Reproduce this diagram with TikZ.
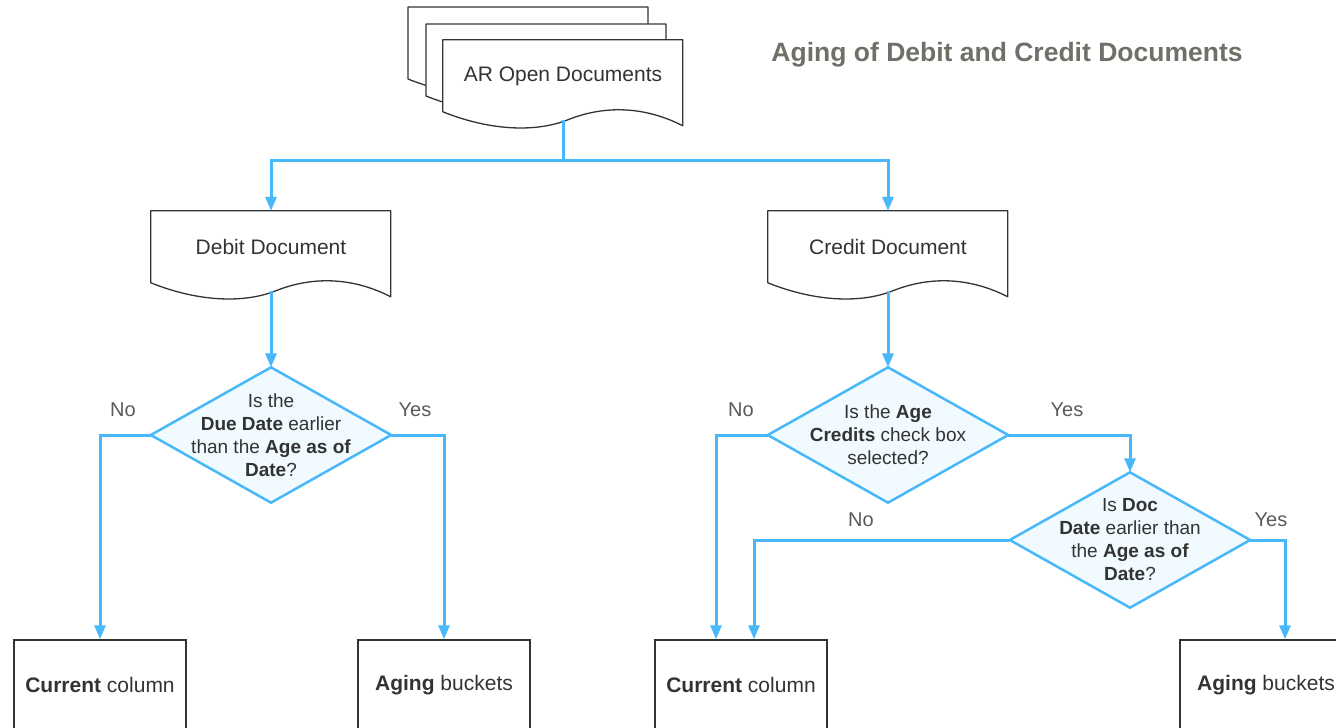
\documentclass[tikz,border=0pt]{standalone}
\usepackage{fontspec}
\setmainfont{Liberation Sans}
\usetikzlibrary{arrows.meta,backgrounds}
\definecolor{flowblue}{RGB}{72,184,250}
\definecolor{decfill}{RGB}{240,250,255}
\definecolor{inkgray}{RGB}{51,51,51}
\definecolor{titlegray}{RGB}{112,112,104}
\definecolor{answergray}{RGB}{90,90,90}
\newcommand\docsheet[1]{\filldraw[sheet,shift={#1}] (0,0) -- (240,0) -- (240,86) .. controls (205,68) and (165,64) .. (125,80) .. controls (95,92) and (50,92) .. (0,72) -- cycle;}
\newcommand\decpath[1]{\filldraw[decision] (#1.north) -- (#1.east) -- (#1.south) -- (#1.west) -- cycle;}
\begin{document}
\begin{tikzpicture}[x=1pt,y=-1pt,font=\fontsize{21}{23}\selectfont,text=inkgray,
  sheet/.style={draw=inkgray,fill=white,line width=1.3pt,line join=round},
  decision/.style={draw=flowblue,fill=decfill,line width=2.5pt,line join=round},
  flow/.style={draw=flowblue,line width=3pt,-{Triangle[width=11pt,length=14pt]}},
  doc/.style={minimum width=240pt,minimum height=72pt,inner sep=0pt},
  ask/.style={minimum width=240pt,minimum height=135pt,inner sep=0pt,align=center,font=\fontsize{19}{23}\selectfont},
  result/.style={draw=inkgray,line width=1.5pt,minimum width=172pt,minimum height=90pt},
  answer/.style={text=answergray,font=\fontsize{20}{23}\selectfont}]
\useasboundingbox (0,0) rectangle (1336,728);
\clip (0,0) rectangle (1336,728);
\node[font=\bfseries\fontsize{26.5}{30}\selectfont,text=titlegray] (title) at (1007,55) {Aging of Debit and Credit Documents};

\node[doc] (ar) at (563,76) {AR Open Documents};
\node[doc] (debit) at (271,247) {Debit Document};
\node[doc] (credit) at (888,247) {Credit Document};

\node[ask] (q1) at (271,435) {Is the\\\textbf{Due Date} earlier\\than the \textbf{Age as of}\\\textbf{Date}?};
\node[ask] (q2) at (888,435) {Is the \textbf{Age}\\\textbf{Credits} check box\\selected?};
\node[ask] (q3) at (1130,540) {Is \textbf{Doc}\\\textbf{Date} earlier than\\the \textbf{Age as of}\\\textbf{Date}?};

\node[result] (cc1) at (100,685) {\textbf{Current} column};
\node[result] (ab1) at (444,685) {\textbf{Aging} buckets};
\node[result] (cc2) at (741,685) {\textbf{Current} column};
\node[result] (ab2) at (1266,685) {\textbf{Aging} buckets};

\begin{scope}[on background layer]
\docsheet{(408,7)}
\docsheet{(426,24)}
\docsheet{(ar.north west)}
\docsheet{(debit.north west)}
\docsheet{(credit.north west)}
\decpath{q1}
\decpath{q2}
\decpath{q3}
\end{scope}

\draw[flow] ([yshift=-8pt]ar.south) -- ++(0,40) -| (debit.north);
\draw[flow] ([yshift=-8pt]ar.south) -- ++(0,40) -| (credit.north);
\draw[flow] ([yshift=-8pt]debit.south) -- (q1.north);
\draw[flow] ([yshift=-8pt]credit.south) -- (q2.north);
\draw[flow] (q1.west) -| (cc1.north);
\draw[flow] (q1.east) -| (ab1.north);
\draw[flow] (q2.west) -| ([xshift=-25pt]cc2.north);
\draw[flow] (q2.east) -| (q3.north);
\draw[flow] (q3.west) -| ([xshift=13pt]cc2.north);
\draw[flow] (q3.east) -| ([xshift=19pt]ab2.north);

\node[answer] (no1) at (123,410) {No};
\node[answer] (yes1) at (415,410) {Yes};
\node[answer] (no2) at (741,410) {No};
\node[answer] (yes2) at (1067,410) {Yes};
\node[answer] (no3) at (861,520) {No};
\node[answer] (yes3) at (1271,520) {Yes};
\end{tikzpicture}
\end{document}
